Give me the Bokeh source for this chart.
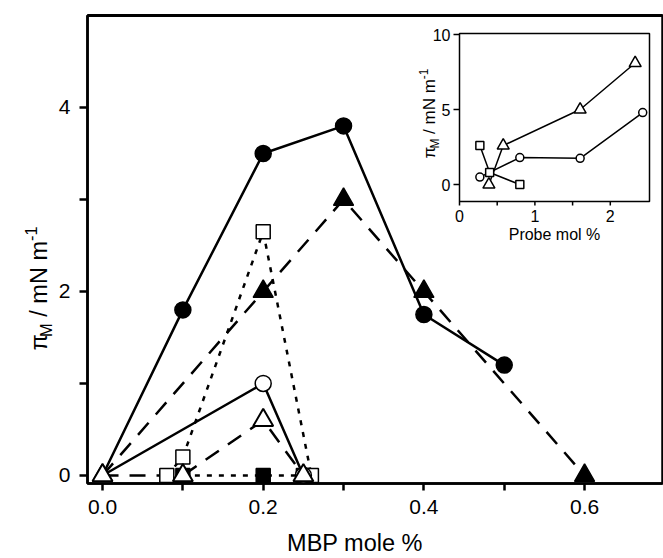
import math
from bokeh.plotting import figure
from bokeh.models import FixedTicker, Label, Range1d
from bokeh.core.properties import value
from bokeh.embed import file_html
from bokeh.resources import INLINE

# ---------------- data (main panel) ----------------
fc_x = [0.0, 0.1, 0.2, 0.3, 0.4, 0.5]          # filled circles, solid
fc_y = [0.0, 1.8, 3.5, 3.8, 1.75, 1.2]
ft_x = [0.0, 0.2, 0.3, 0.4, 0.6]               # filled triangles, dashed
ft_y = [0.0, 2.0, 3.0, 2.0, 0.0]
fs_x = [0.1, 0.2, 0.25]                        # filled squares, dotted
fs_y = [0.0, 0.0, 0.0]
os_x = [0.08, 0.1, 0.2, 0.26]                  # open squares, dotted
os_y = [0.0, 0.2, 2.65, 0.0]
oc_x = [0.0, 0.2, 0.25]                        # open circles, solid
oc_y = [0.0, 1.0, 0.0]
ot_x = [0.0, 0.1, 0.2, 0.25]                   # open triangles, dashed
ot_y = [0.0, 0.0, 0.6, 0.0]

x_ticks = [0.0, 0.2, 0.4, 0.6]
x_tick_labels = ["0.0", "0.2", "0.4", "0.6"]
x_minor = [0.1, 0.3, 0.5]
y_ticks = [0, 2, 4]
y_minor = [1, 3]
x_title = "MBP mole %"

# ---------------- data (inset) ----------------
in_sq_x = [0.27, 0.40, 0.80]
in_sq_y = [2.6, 0.8, 0.0]
in_ci_x = [0.27, 0.80, 1.60, 2.43]
in_ci_y = [0.5, 1.8, 1.75, 4.8]
in_tr_x = [0.39, 0.58, 1.60, 2.33]
in_tr_y = [0.0, 2.6, 5.0, 8.1]
in_x_ticks = [0, 1, 2]
in_x_tick_labels = ["0", "1", "2"]
in_x_minor = [0.5, 1.5]
in_y_ticks = [0, 5, 10]
in_y_tick_labels = ["0", "5", "10"]
in_x_title = "Probe mol %"

FONT = "Liberation Sans"
ADV = {' ': 278, '/': 278, 'm': 833, 'N': 722, 'M': 833, '-': 333, '1': 556, 'π': 580}


def text_w(s, size):
    return sum(ADV.get(c, 556) for c in s) / 1000.0 * size


# ---------------- geometry (page = canvas pixels) ----------------
W, H = 663, 558
PL, PR, PT, PB = 87, 662, 15, 483          # main plot box
XR = (-0.0187, 0.697)
YR = (-0.087, 5.0)
IL, IR, IT, IB = 459, 649, 33, 201         # inset box
IXR = (0.0, 2.52)
IYR = (-1.13, 10.07)
BL = 0.29                                  # baseline correction (fraction of font size)

xpp = (XR[1] - XR[0]) / (PR - PL)
ypp = (YR[1] - YR[0]) / (PB - PT)
ixpp = (IXR[1] - IXR[0]) / (IR - IL)
iypp = (IYR[1] - IYR[0]) / (IB - IT)

p = figure(width=W, height=H,
           x_range=Range1d(XR[0] - PL * xpp, XR[1] + (W - PR) * xpp),
           y_range=Range1d(YR[0] - (H - PB) * ypp, YR[1] + PT * ypp),
           output_backend="svg", toolbar_location=None,
           min_border_left=0, min_border_right=0, min_border_top=0, min_border_bottom=0)
p.extra_x_ranges = {"ix": Range1d(IXR[0] - IL * ixpp, IXR[1] + (W - IR) * ixpp)}
p.extra_y_ranges = {"iy": Range1d(IYR[0] - (H - IB) * iypp, IYR[1] + IT * iypp)}
p.xgrid.grid_line_color = None
p.ygrid.grid_line_color = None
p.outline_line_color = None
p.background_fill_color = "white"
p.border_fill_color = "white"

# main plot box (top / right edges)
p.quad(left=[XR[0]], right=[XR[1]], bottom=[YR[0]], top=[YR[1]],
       fill_alpha=0, line_color="black", line_width=2.5)
p.segment(x0=[XR[0]], y0=[YR[1]], x1=[XR[1]], y1=[YR[1]], line_color="black", line_width=3.2)

# main axes, pinned to the box edges
p.xaxis.fixed_location = YR[0]
p.xaxis.bounds = XR
p.yaxis.fixed_location = XR[0]
p.yaxis.bounds = YR
p.xaxis.ticker = FixedTicker(ticks=x_ticks, minor_ticks=x_minor)
p.xaxis.major_label_overrides = dict(zip(x_ticks, x_tick_labels))
p.yaxis.ticker = FixedTicker(ticks=y_ticks, minor_ticks=y_minor)
for ax in (p.xaxis, p.yaxis):
    ax.axis_line_width = 2.5
    ax.major_tick_line_width = 2.5
    ax.minor_tick_line_width = 2.5
    ax.major_tick_in = 0
    ax.minor_tick_in = 0
    ax.major_label_text_font = FONT
    ax.major_label_text_font_size = "21px"
    ax.major_label_text_color = "black"
    ax.axis_line_color = "black"
    ax.major_tick_line_color = "black"
    ax.minor_tick_line_color = "black"
p.xaxis.major_tick_out = 7
p.xaxis.minor_tick_out = 7
p.yaxis.major_tick_out = 8
p.yaxis.minor_tick_out = 8
p.xaxis.major_label_standoff = 9
p.yaxis.major_label_standoff = 9

p.add_layout(Label(x=(PL + PR) / 2 - 20, y=549 - BL * 23.5, x_units="canvas", y_units="canvas",
                   text=x_title, text_font=FONT, text_font_size="23.5px", text_align="center",
                   text_baseline="alphabetic", text_color="black"))


def rotated_label(cx, cy, F):
    """pi_M / mN m^-1 reading upward; glyph baseline at canvas x=cx, centred at canvas y=cy."""
    small = 0.7 * F
    pieces = [("π", F, 0.0), ("M", small, 0.22 * F), (" ", F, None), ("/ mN m", F, 0.0),
              ("-1", small, -0.42 * F)]
    L = sum(text_w(t, s) for t, s, _ in pieces)
    s = cy + L / 2.0
    for t, size, shift in pieces:
        if shift is not None:
            p.add_layout(Label(x=cx + shift - BL * size, y=s, x_units="canvas", y_units="canvas",
                               text=t, angle=math.pi / 2, text_font=FONT,
                               text_font_size=f"{size:.1f}px", text_align="left",
                               text_baseline="alphabetic", text_color="black"))
        s -= text_w(t, size)


LW = 2.5
p.line(ft_x, ft_y, line_color="black", line_width=LW, line_dash="16 11")
p.line(fc_x, fc_y, line_color="black", line_width=LW)
p.line(fs_x, fs_y, line_color="black", line_width=LW, line_dash="5 7")
p.line(os_x, os_y, line_color="black", line_width=LW, line_dash="5 7")
p.line(oc_x, oc_y, line_color="black", line_width=LW)
p.line(ot_x, ot_y, line_color="black", line_width=LW, line_dash="16 11")
p.scatter(fs_x, fs_y, marker="square", size=14, fill_color="black", line_color="black", line_width=1.5)
p.scatter(ft_x, ft_y, marker="triangle", size=20, fill_color="black", line_color="black", line_width=1.5)
p.scatter(fc_x[1:], fc_y[1:], marker="circle", size=16, fill_color="black", line_color="black", line_width=1.5)
p.scatter(os_x, os_y, marker="square", size=14, fill_color="white", line_color="black", line_width=1.5)
p.scatter(oc_x[1:], oc_y[1:], marker="circle", size=16, fill_color="white", line_color="black", line_width=1.5)
p.scatter(ot_x, ot_y, marker="triangle", size=20, fill_color="white", line_color="black", line_width=2)

rotated_label(45, 288, 23.5)

# ---------------- inset (drawn through the extra ranges) ----------------
R = dict(x_range_name="ix", y_range_name="iy")
ILW = 1.5
p.quad(left=[IXR[0]], right=[IXR[1]], bottom=[IYR[0]], top=[IYR[1]],
       fill_color="white", line_color="black", line_width=ILW, **R)
p.segment(x0=[IXR[0] - 6 * ixpp] * len(in_y_ticks), y0=in_y_ticks,
          x1=[IXR[0]] * len(in_y_ticks), y1=in_y_ticks, line_color="black", line_width=ILW, **R)
p.segment(x0=in_x_ticks, y0=[IYR[0]] * len(in_x_ticks), x1=in_x_ticks,
          y1=[IYR[0] - 4 * iypp] * len(in_x_ticks), line_color="black", line_width=ILW, **R)
p.segment(x0=in_x_minor, y0=[IYR[0]] * len(in_x_minor), x1=in_x_minor,
          y1=[IYR[0] - 4 * iypp] * len(in_x_minor), line_color="black", line_width=ILW, **R)
p.text(x=[IXR[0]] * len(in_y_ticks), y=in_y_ticks, text=in_y_tick_labels, x_offset=-9,
       text_font=value(FONT), text_font_size="16px", text_align="right", text_baseline="middle",
       text_color="black", **R)
p.text(x=in_x_ticks, y=[IYR[0]] * len(in_x_ticks), text=in_x_tick_labels, y_offset=8,
       text_font=value(FONT), text_font_size="16px", text_align="center", text_baseline="top",
       text_color="black", **R)
p.text(x=[(IXR[0] + IXR[1]) / 2], y=[IYR[0]], text=[in_x_title], y_offset=33,
       text_font=value(FONT), text_font_size="16px", text_align="center", text_baseline="alphabetic",
       text_color="black", **R)

p.line(in_tr_x, in_tr_y, line_color="black", line_width=ILW, **R)
p.line(in_ci_x, in_ci_y, line_color="black", line_width=ILW, **R)
p.line(in_sq_x, in_sq_y, line_color="black", line_width=ILW, **R)
p.scatter(in_tr_x, in_tr_y, marker="triangle", size=12, fill_color="white", line_color="black", line_width=1.5, **R)
p.scatter(in_ci_x, in_ci_y, marker="circle", size=8, fill_color="white", line_color="black", line_width=1.5, **R)
p.scatter(in_sq_x, in_sq_y, marker="square", size=8, fill_color="white", line_color="black", line_width=1.5, **R)

rotated_label(434, 113, 17)

open("out.html", "w").write(file_html(p, INLINE))
